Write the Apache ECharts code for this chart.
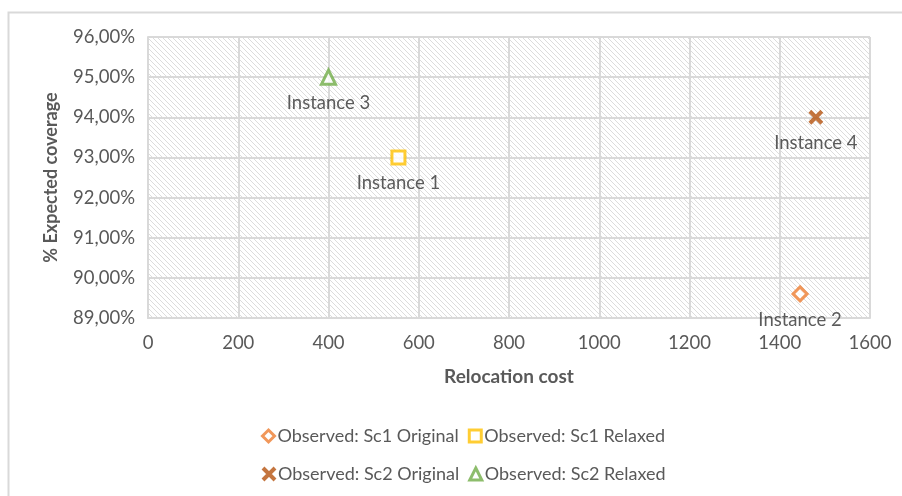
<!DOCTYPE html>
<html>
<head>
<meta charset="utf-8">
<script src="https://cdn.jsdelivr.net/npm/echarts@6/dist/echarts.min.js"></script>
<style>
  html, body { margin: 0; padding: 0; background: #fff; }
  #chart { width: 902px; height: 496px; }
</style>
</head>
<body>
<div id="chart"></div>
<script>
// Scenario results: relocation cost vs. expected coverage (%)
const seriesNames = [
  'Observed: Sc1 Original',
  'Observed: Sc1 Relaxed',
  'Observed: Sc2 Original',
  'Observed: Sc2 Relaxed'
];
const instanceLabels = ['Instance 2', 'Instance 1', 'Instance 4', 'Instance 3'];
const relocationCost = [1445, 555, 1480, 400];
const expectedCoverage = [89.6, 93.0, 94.0, 95.0];
const yTicks = { min: 89, max: 96, step: 1 };
const xTicks = { min: 0, max: 1600, step: 200 };

const colors = ['#ED7D31', '#FFC000', '#B5520F', '#70AD47'];
const symbols = ['diamond', 'rect', 'path://M0,0L10,10M10,0L0,10', 'triangle'];
const symbolSizes = [14, 13, 12, 14];
const strokeWidths = [3, 3, 4, 3];

// Light diagonal hatch used as the plot background
function hatchPattern() {
  const c = document.createElement('canvas');
  c.width = 5; c.height = 5;
  const g = c.getContext('2d');
  g.fillStyle = '#ffffff';
  g.fillRect(0, 0, 5, 5);
  g.fillStyle = '#dcdcdc';
  for (let i = 0; i < 5; i++) g.fillRect(i, i, 1, 1);
  return { type: 'pattern', image: c, repeat: 'repeat' };
}

const font = 'Lato, "Noto Sans", sans-serif';

function markerStyle(i) {
  return i === 2
    ? { color: 'rgba(0,0,0,0)', borderColor: colors[i], borderWidth: strokeWidths[i] }
    : { color: '#ffffff', borderColor: colors[i], borderWidth: strokeWidths[i] };
}

const series = seriesNames.map((name, i) => ({
  name,
  type: 'scatter',
  symbol: symbols[i],
  symbolSize: symbolSizes[i],
  data: [[relocationCost[i], expectedCoverage[i]]],
  itemStyle: markerStyle(i),
  label: {
    show: true,
    position: 'bottom',
    distance: 8,
    formatter: instanceLabels[i],
    color: '#333333',
    fontFamily: font,
    fontSize: 18.5
  },
  emphasis: { disabled: true }
}));

const legendItem = i => ({ name: seriesNames[i], icon: symbols[i], itemStyle: markerStyle(i) });
const legendCommon = {
  left: 256,
  itemGap: 9, itemWidth: 12, itemHeight: 12,
  textStyle: { color: '#595959', fontSize: 18, fontFamily: font, padding: [0, 0, 0, -2] },
  selectedMode: false
};

const chart = echarts.init(document.getElementById('chart'), null, { renderer: 'canvas' });
chart.setOption({
  animation: false,
  backgroundColor: '#ffffff',
  graphic: [{
    type: 'rect',
    shape: { x: 8.5, y: 12.5, width: 1000, height: 1000 },
    style: { fill: 'none', stroke: '#d9d9d9', lineWidth: 2 },
    silent: true,
    z: -1
  }],
  grid: {
    left: 148, right: 32, top: 37, bottom: 178,
    show: true,
    backgroundColor: hatchPattern(),
    borderWidth: 0
  },
  xAxis: {
    type: 'value',
    min: xTicks.min, max: xTicks.max, interval: xTicks.step,
    name: 'Relocation cost',
    nameLocation: 'middle',
    nameGap: 49,
    nameTextStyle: { color: '#595959', fontWeight: 'bold', fontSize: 19, fontFamily: font },
    axisLine: { show: true, lineStyle: { color: '#d9d9d9', width: 2 } },
    axisTick: { show: false },
    axisLabel: { color: '#595959', fontSize: 18.5, fontFamily: font, margin: 16, formatter: v => String(v) },
    splitLine: { show: true, showMinLine: true, showMaxLine: true, lineStyle: { color: '#d9d9d9', width: 2 } }
  },
  yAxis: {
    type: 'value',
    min: yTicks.min, max: yTicks.max, interval: yTicks.step,
    name: '% Expected coverage',
    nameLocation: 'middle',
    nameGap: 88,
    nameTextStyle: { color: '#595959', fontWeight: 'bold', fontSize: 18, fontFamily: font },
    axisLine: { show: true, lineStyle: { color: '#d9d9d9', width: 2 } },
    axisTick: { show: false },
    axisLabel: {
      color: '#595959', fontSize: 18.5, fontFamily: font, margin: 13,
      formatter: v => v.toFixed(2).replace('.', ',') + '%'
    },
    splitLine: { show: true, showMinLine: true, showMaxLine: true, lineStyle: { color: '#d9d9d9', width: 2 } }
  },
  legend: [
    Object.assign({ data: [legendItem(0), legendItem(1)], top: 422 }, legendCommon),
    Object.assign({ data: [legendItem(2), legendItem(3)], top: 460 }, legendCommon)
  ],
  series
});
</script>
</body>
</html>
